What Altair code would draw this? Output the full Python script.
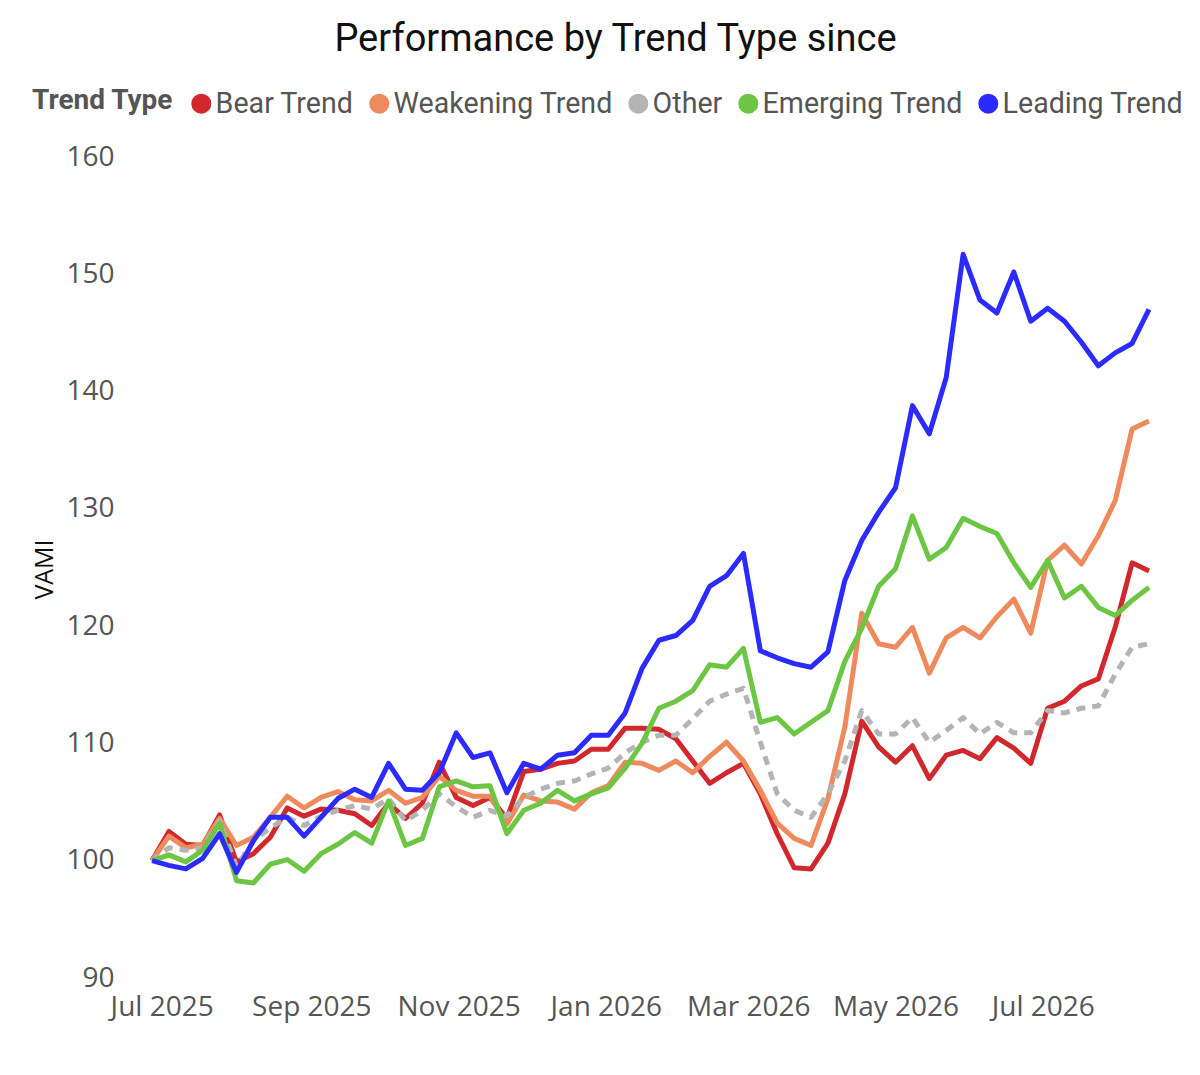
import altair as alt
import pandas as pd

# weekly observation dates (Fridays)
dates = pd.date_range("2025-06-27", periods=60, freq="7D")

series_names = ["Bear Trend", "Weakening Trend", "Other", "Emerging Trend", "Leading Trend"]
series_colors = ["#D0282D", "#EE8A5C", "#B4B4B4", "#6CC644", "#2B2BFF"]

bear = [100, 102.5, 101.4, 101.3, 103.9, 99.9, 100.6, 102.0, 104.5, 103.8,
        104.4, 104.3, 104.0, 103.0, 104.9, 103.6, 104.9, 108.4, 105.4, 104.7,
        105.4, 103.6, 107.6, 107.8, 108.3, 108.5, 109.5, 109.5, 111.3, 111.3,
        111.2, 110.4, 108.5, 106.6, 107.5, 108.3, 105.7, 102.3, 99.4, 99.3,
        101.5, 105.7, 111.9, 109.7, 108.4, 109.8, 107.0, 109.0, 109.4, 108.7,
        110.5, 109.6, 108.3, 113.0, 113.6, 114.9, 115.5, 119.9, 125.4, 124.7]

weakening = [100, 102.1, 101.1, 101.4, 103.6, 101.3, 102.0, 103.7, 105.5, 104.5,
             105.4, 105.9, 105.2, 105.1, 106.0, 104.9, 105.4, 107.2, 106.0, 105.5,
             105.5, 103.1, 105.6, 105.1, 105.0, 104.4, 105.8, 106.4, 108.4, 108.3,
             107.7, 108.5, 107.5, 108.9, 110.1, 108.5, 106.0, 103.2, 101.9, 101.3,
             105.3, 111.4, 121.1, 118.5, 118.2, 119.9, 116.0, 119.0, 119.9, 119.0,
             120.8, 122.3, 119.4, 125.6, 126.9, 125.3, 127.7, 130.7, 136.8, 137.5]

other = [100, 101.1, 100.9, 101.1, 103.4, 99.5, 101.7, 102.8, 103.7, 103.0,
         103.8, 104.3, 104.7, 104.4, 105.3, 103.4, 104.3, 105.7, 104.6, 103.7,
         104.3, 103.8, 105.4, 106.1, 106.6, 106.8, 107.4, 107.9, 109.2, 110.1,
         110.7, 110.7, 112.1, 113.6, 114.2, 114.7, 110.1, 105.7, 104.3, 103.7,
         105.7, 108.5, 112.8, 110.8, 110.8, 112.2, 110.1, 111.1, 112.2, 110.8,
         111.8, 110.9, 110.9, 112.8, 112.6, 113.0, 113.2, 115.9, 118.2, 118.5]

emerging = [100, 100.5, 99.9, 100.9, 103.2, 98.3, 98.1, 99.7, 100.1, 99.1,
            100.6, 101.4, 102.4, 101.5, 105.1, 101.3, 101.9, 106.3, 106.8, 106.3,
            106.4, 102.3, 104.3, 104.9, 106.0, 105.1, 105.7, 106.2, 107.9, 110.0,
            113.0, 113.6, 114.5, 116.7, 116.5, 118.1, 111.8, 112.2, 110.8, 111.8,
            112.8, 117.0, 119.8, 123.4, 124.9, 129.4, 125.7, 126.7, 129.2, 128.5,
            127.9, 125.4, 123.3, 125.6, 122.4, 123.4, 121.6, 120.9, 122.2, 123.3]

leading = [100, 99.6, 99.3, 100.2, 102.3, 99.0, 101.7, 103.7, 103.7, 102.1,
           103.7, 105.3, 106.1, 105.4, 108.3, 106.1, 106.0, 107.5, 110.9, 108.8,
           109.2, 105.8, 108.3, 107.8, 109.0, 109.2, 110.7, 110.7, 112.6, 116.4,
           118.8, 119.2, 120.5, 123.4, 124.3, 126.2, 117.9, 117.3, 116.8, 116.5,
           117.8, 123.9, 127.3, 129.7, 131.8, 138.8, 136.4, 141.2, 151.7, 147.8,
           146.7, 150.2, 146.0, 147.1, 146.0, 144.2, 142.2, 143.3, 144.1, 147.0]

y_ticks = [90, 100, 110, 120, 130, 140, 150, 160]
x_tick_months = [(2025, 7), (2025, 9), (2025, 11), (2026, 1), (2026, 3), (2026, 5), (2026, 7)]

values_by_series = [bear, weakening, other, emerging, leading]
rows = []
for name, vals in zip(series_names, values_by_series):
    for d, v in zip(dates, vals):
        rows.append({"Date": d, "Trend Type": name, "VAMI": v})
df = pd.DataFrame(rows)

x_values = [alt.DateTime(year=y, month=m, date=1) for y, m in x_tick_months]
x_domain = [alt.DateTime(year=2025, month=6, date=27), alt.DateTime(year=2026, month=8, date=14)]

x_enc = alt.X("Date:T", title=None,
              scale=alt.Scale(domain=x_domain),
              axis=alt.Axis(values=x_values, format="%b %Y", grid=False, ticks=False, domain=False,
                            labelFont="Open Sans", labelFontSize=28, labelColor="#555555",
                            labelPadding=15, labelFlush=False, labelOverlap=False))
y_enc = alt.Y("VAMI:Q", title="VAMI",
              scale=alt.Scale(domain=[90, 160], nice=False, zero=False),
              axis=alt.Axis(values=y_ticks, grid=False, ticks=False, domain=False,
                            labelFont="Open Sans", labelFontSize=28, labelColor="#555555",
                            labelPadding=38,
                            titleFont="Open Sans", titleFontSize=25, titleFontWeight="normal",
                            titleColor="#111111", titleAngle=270, titleX=-108, titleY=412,
                            titleAlign="center", titleBaseline="middle"))
color_scale = alt.Scale(domain=series_names, range=series_colors)

legend = alt.Legend(orient="none", legendX=-120, legendY=-68,
                    direction="horizontal", titleOrient="left",
                    title="Trend Type",
                    titleFont="Roboto", titleFontSize=28, titleFontWeight="bold",
                    titleColor="#555555", titlePadding=13, titleBaseline="alphabetic",
                    labelFont="Roboto", labelFontSize=28.6, labelColor="#555555",
                    labelOffset=0, labelLimit=0, columnPadding=0,
                    symbolType="circle", symbolSize=100, symbolStrokeWidth=10,
                    symbolOpacity=1)

base = alt.Chart(df)

lower = base.transform_filter(
    alt.FieldOneOfPredicate(field="Trend Type", oneOf=series_names[:2])
).mark_line(strokeWidth=5, strokeJoin="round").encode(
    x=x_enc, y=y_enc,
    color=alt.Color("Trend Type:N", scale=color_scale, legend=legend),
)

dashed = base.transform_filter(
    alt.FieldEqualPredicate(field="Trend Type", equal=series_names[2])
).mark_line(strokeWidth=5, strokeJoin="round", strokeDash=[9, 7]).encode(
    x=x_enc, y=y_enc,
    color=alt.Color("Trend Type:N", scale=color_scale, legend=None),
)

upper = base.transform_filter(
    alt.FieldOneOfPredicate(field="Trend Type", oneOf=series_names[3:])
).mark_line(strokeWidth=5, strokeJoin="round").encode(
    x=x_enc, y=y_enc,
    color=alt.Color("Trend Type:N", scale=color_scale, legend=None),
)

chart = alt.layer(lower, dashed, upper).properties(
    width=997,
    height=821,
    autosize=alt.AutoSizeParams(type="none"),
    padding={"left": 144, "top": 149, "right": 43, "bottom": 70},
    title=alt.TitleParams("Performance by Trend Type since", font="Roboto", fontSize=38,
                          fontWeight="normal", color="#111111", anchor="middle", dx=-35,
                          offset=30),
).configure(background="white").configure_view(stroke=None)

chart.save("out.html", embed_options={"renderer": "svg", "actions": False})
